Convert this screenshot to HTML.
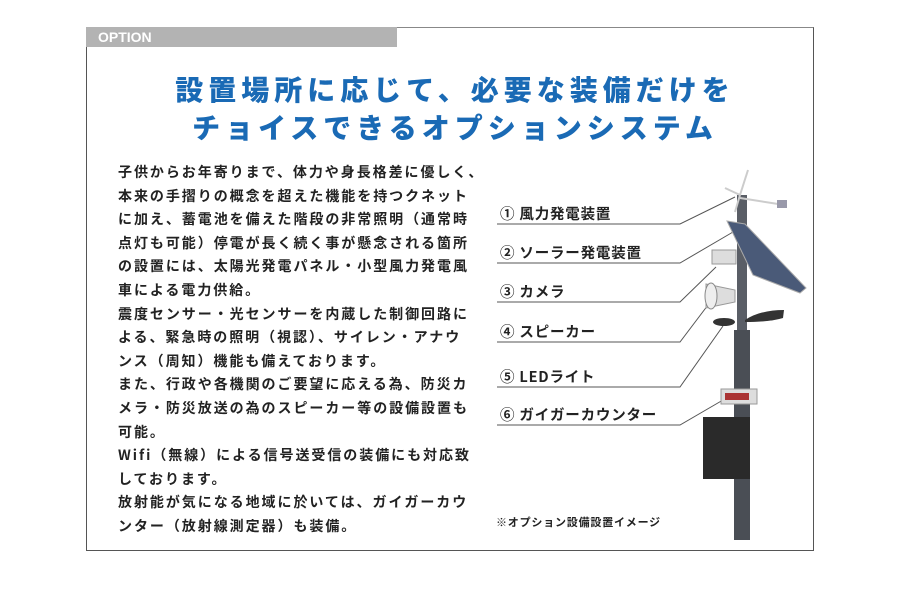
<!DOCTYPE html>
<html><head><meta charset="utf-8"><style>
*{margin:0;padding:0}
body{width:900px;height:600px;background:#fff;position:relative;overflow:hidden;font-family:"Liberation Sans","Noto Sans CJK JP",sans-serif}
#box{position:absolute;left:86px;top:27px;width:726px;height:522px;border:1px solid #555;border-top-color:#888}
#hdr{position:absolute;left:86px;top:27px;width:311px;height:20px;background:#b3b3b3;color:#fff;font-weight:bold;font-size:14px;line-height:20px;padding-left:12px;box-sizing:border-box}
.t{position:absolute;left:0;width:900px;text-align:center;color:#1a6ab5;font-weight:900;font-size:28px;letter-spacing:5px;line-height:32px;font-family:"Noto Sans CJK JP",sans-serif}
#body{position:absolute;left:118px;top:161px;font-size:14px;letter-spacing:1.95px;line-height:23.6px;color:#222;font-weight:bold;font-family:"Noto Sans CJK JP",sans-serif;white-space:nowrap}
.l{position:absolute;left:500px;font-size:14.5px;font-weight:bold;color:#222;font-family:"Noto Sans CJK JP",sans-serif;letter-spacing:0.8px;white-space:nowrap}
</style></head><body>
<div id="box"></div>
<div id="hdr">OPTION</div>
<div class="t" style="top:73px;padding-left:5px">設置場所に応じて、必要な装備だけを</div>
<div class="t" style="top:111px;padding-left:5px">チョイスできるオプションシステム</div>
<div id="body">子供からお年寄りまで、体力や身長格差に優しく、<br>本来の手摺りの概念を超えた機能を持つクネット<br>に加え、蓄電池を備えた階段の非常照明（通常時<br>点灯も可能）停電が長く続く事が懸念される箇所<br>の設置には、太陽光発電パネル・小型風力発電風<br>車による電力供給。<br>震度センサー・光センサーを内蔵した制御回路に<br>よる、緊急時の照明（視認）、サイレン・アナウ<br>ンス（周知）機能も備えております。<br>また、行政や各機関のご要望に応える為、防災カ<br>メラ・防災放送の為のスピーカー等の設備設置も<br>可能。<br>Wifi（無線）による信号送受信の装備にも対応致<br>しております。<br>放射能が気になる地域に於いては、ガイガーカウ<br>ンター（放射線測定器）も装備。</div>
<svg style="position:absolute;left:0;top:0" width="900" height="600">
<g stroke="#555" stroke-width="1" fill="none">
<polyline points="497,224 680,224 735,197"/>
<polyline points="497,263 680,263 733,232"/>
<polyline points="497,302 680,302 716,267"/>
<polyline points="497,342 680,342 708,305"/>
<polyline points="497,387 680,387 723,326"/>
<polyline points="497,425 680,425 723,400"/>
</g>
<rect x="737" y="195" width="10" height="140" fill="#5a5e66"/>
<rect x="734" y="330" width="16" height="210" fill="#4a4e55"/>
<rect x="703" y="417" width="47" height="62" fill="#2a2a2a"/>
<rect x="721" y="389" width="36" height="15" fill="#ddd" stroke="#999"/>
<rect x="725" y="393" width="24" height="7" fill="#a33"/>
<polygon points="727,221 745,224 806,288 800,293 753,275" fill="#4a5a78" stroke="#aaa"/>
<g stroke="#ccc" stroke-width="2"><line x1="740" y1="195" x2="748" y2="170"/><line x1="740" y1="195" x2="725" y2="188"/><line x1="740" y1="195" x2="735" y2="212"/><line x1="740" y1="198" x2="778" y2="204"/></g>
<rect x="777" y="200" width="10" height="8" fill="#99a"/>
<rect x="712" y="250" width="24" height="14" fill="#ddd" stroke="#999"/>
<polygon points="706,284 735,290 735,302 706,308" fill="#ddd" stroke="#999"/>
<ellipse cx="711" cy="296" rx="6" ry="13" fill="#eee" stroke="#888"/>
<ellipse cx="724" cy="322" rx="11" ry="4" fill="#333"/>
<path d="M745,320 Q760,310 784,310 L783,318 Q770,322 745,322Z" fill="#333"/>
</svg>
<div class="l" style="top:203px">① 風力発電装置</div>
<div class="l" style="top:242px">② ソーラー発電装置</div>
<div class="l" style="top:281px">③ カメラ</div>
<div class="l" style="top:321px">④ スピーカー</div>
<div class="l" style="top:366px">⑤ LEDライト</div>
<div class="l" style="top:404px">⑥ ガイガーカウンター</div>
<div class="l" style="top:514px;left:496px;font-size:11px">※オプション設備設置イメージ</div>
</body></html>
